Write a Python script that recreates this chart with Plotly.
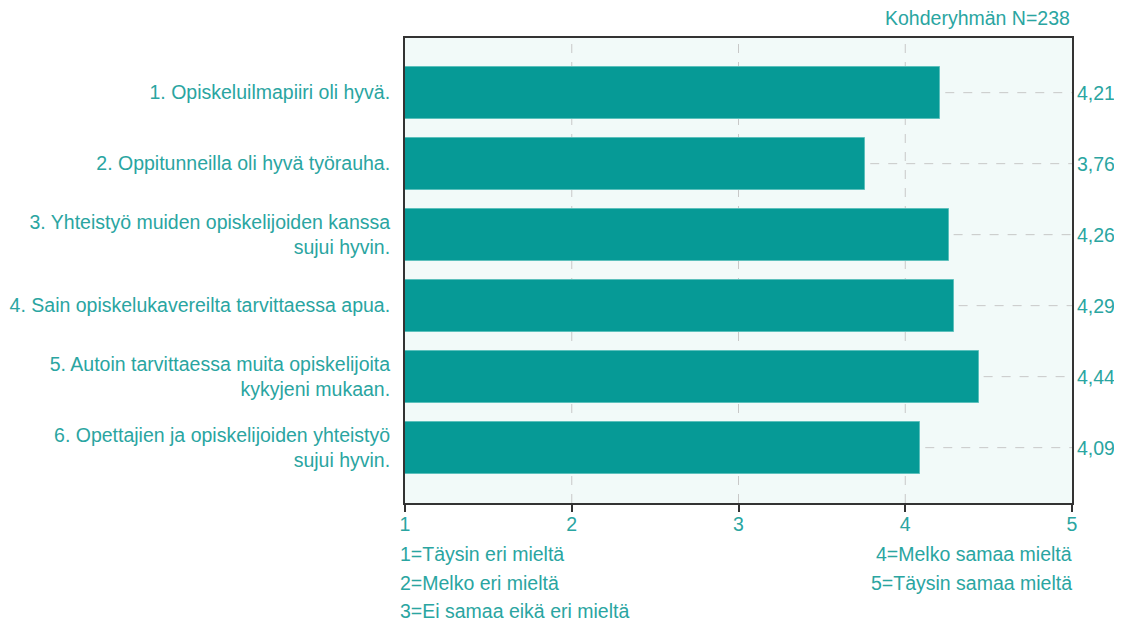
import plotly.graph_objects as go

categories = [
    "1. Opiskeluilmapiiri oli hyvä.",
    "2. Oppitunneilla oli hyvä työrauha.",
    "3. Yhteistyö muiden opiskelijoiden kanssa<br>sujui hyvin.",
    "4. Sain opiskelukavereilta tarvittaessa apua.",
    "5. Autoin tarvittaessa muita opiskelijoita<br>kykyjeni mukaan.",
    "6. Opettajien ja opiskelijoiden yhteistyö<br>sujui hyvin.",
]
values = [4.21, 3.76, 4.26, 4.29, 4.44, 4.09]
value_labels = ["4,21", "3,76", "4,26", "4,29", "4,44", "4,09"]
x_ticks = [1, 2, 3, 4, 5]
scale_left = ["1=Täysin eri mieltä", "2=Melko eri mieltä", "3=Ei samaa eikä eri mieltä"]
scale_right = ["4=Melko samaa mieltä", "5=Täysin samaa mieltä"]
n_text = "Kohderyhmän N=238"

TEAL_TEXT = "#2aa5a1"
BAR = "#069a96"
FONT = "Liberation Sans"
FS = 19.5

fig = go.Figure()
fig.add_trace(go.Bar(
    y=list(range(len(categories))),
    x=[v - 1 for v in values],
    base=1,
    orientation="h",
    marker=dict(color=BAR, line=dict(color="#5cc0bc", width=1)),
    width=0.73,
    hoverinfo="skip",
))

shapes = []
for i, v in enumerate(values):
    shapes.append(dict(type="line", xref="x", yref="y", x0=v + 0.03, x1=5, y0=i, y1=i,
                       line=dict(color="#c8c8c8", width=1, dash="dash"), layer="below"))
for t in [2, 3, 4]:
    shapes.append(dict(type="line", xref="x", yref="paper", x0=t, x1=t, y0=0, y1=1,
                       line=dict(color="#c8c8c8", width=1, dash="dash"), layer="below"))

annotations = []
for i, lab in enumerate(value_labels):
    annotations.append(dict(x=1, xref="paper", y=i, yref="y", text=lab, showarrow=False,
                            xanchor="left", xshift=3,
                            font=dict(size=FS, color=TEAL_TEXT, family=FONT)))
annotations.append(dict(x=1, xref="paper", y=1, yref="paper", yshift=7, text=n_text,
                        showarrow=False, xanchor="right", yanchor="bottom", xshift=0,
                        font=dict(size=FS, color=TEAL_TEXT, family=FONT)))
left_shifts = [-51, -80, -108]
for s, dy in zip(scale_left, left_shifts):
    annotations.append(dict(x=0, xref="paper", y=0, yref="paper", yshift=dy,
                            text=s, showarrow=False, xanchor="left", yanchor="middle", xshift=-7,
                            font=dict(size=FS, color=TEAL_TEXT, family=FONT)))
right_shifts = [-51, -80]
for s, dy in zip(scale_right, right_shifts):
    annotations.append(dict(x=1, xref="paper", y=0, yref="paper", yshift=dy,
                            text=s, showarrow=False, xanchor="right", yanchor="middle", xshift=2,
                            font=dict(size=FS, color=TEAL_TEXT, family=FONT)))

fig.update_layout(
    width=1106, height=616,
    margin=dict(l=397, r=42, t=30, b=121, autoexpand=False),
    paper_bgcolor="white",
    plot_bgcolor="#f2faf9",
    showlegend=False,
    bargap=0,
    shapes=shapes,
    annotations=annotations,
    xaxis=dict(range=[1, 5], tickvals=x_ticks, ticktext=[str(t) for t in x_ticks],
               automargin=False, ticklabelstandoff=-4,
               showgrid=False, zeroline=False, ticks="outside", ticklen=7, tickwidth=2,
               tickcolor="#333333", showline=True, linecolor="#333333", linewidth=2,
               mirror=True, tickfont=dict(size=FS, color=TEAL_TEXT, family=FONT)),
    yaxis=dict(range=[5.78, -0.77], tickvals=list(range(len(categories))), ticktext=categories,
               automargin=False,
               showgrid=False, zeroline=False, ticks="", showline=True, linecolor="#333333",
               linewidth=2, mirror=True, ticklabelstandoff=9,
               tickfont=dict(size=FS, color=TEAL_TEXT, family=FONT)),
)

fig.write_html("out.html")
